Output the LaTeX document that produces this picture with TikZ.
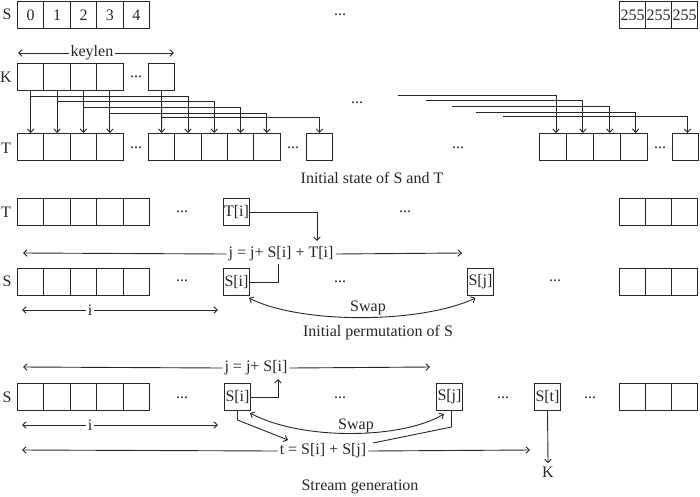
\documentclass[tikz,border=0pt]{standalone}
\usepackage{fontspec}
\setmainfont{Liberation Serif}
\usetikzlibrary{arrows.meta,calc}
\begin{document}
\begin{tikzpicture}[x=1pt,y=-1pt,
  every node/.style={font=\fontsize{16}{19}\selectfont, text=black!85},
  cell/.style={draw=black!85, line width=1pt, minimum width=26.4pt, minimum height=27pt, inner sep=0pt, anchor=north west},
  lbl/.style={inner sep=0pt},
  dots/.style={inner sep=0pt},
  conn/.style={draw=black!85, line width=0.9pt, -{Straight Barb[length=3.5pt,width=6.5pt]}},
  biconn/.style={draw=black!85, line width=0.9pt, {Straight Barb[length=3.5pt,width=6.5pt]}-{Straight Barb[length=3.5pt,width=6.5pt]}},
  plain/.style={draw=black!85, line width=0.9pt},
  gap/.style={fill=white, inner sep=1.5pt}
]
\useasboundingbox (0,0) rectangle (700,496);
% ---------- top S row
\node[lbl] (Slab0) at (7,14) {S};
\foreach \i in {0,...,4} \node[cell] (S0\i) at ({17+26.4*\i},1) {\i};
\node[dots] (d0) at (340,15) {...};
\foreach \i in {0,1,2} \node[cell, minimum width=26pt] (S0r\i) at ({619+26*\i},1) {255};
% keylen
\coordinate (kl) at (18,53); \coordinate (kr) at (174,53);
\draw[biconn] (kl) -- (kr) node[pos=0.474, gap] {keylen};
% K row
\node[lbl] (Klab0) at (6,77) {K};
\foreach \i in {0,...,3} \node[cell] (K\i) at ({17+26.4*\i},63) {};
\node[dots] (dk) at (136,77) {...};
\node[cell, minimum width=26pt] (K4) at (148,63) {};
\node[dots] (dk2) at (357,103) {...};
% T row
\node[lbl] (Tlab0) at (6,148) {T};
\foreach \i in {0,...,3} \node[cell] (T\i) at ({17+26.4*\i},133) {};
\node[dots] (dt1) at (136,148) {...};
\foreach \i in {0,...,4} \node[cell, minimum width=26.3pt] (U\i) at ({148+26.3*\i},133) {};
\node[dots] (dt2) at (293,148) {...};
\node[cell, minimum width=26pt] (U5) at (306,133) {};
\node[dots] (dt3) at (458,148) {...};
\foreach \i in {0,...,3} \node[cell, minimum width=26.9pt] (V\i) at ({539+26.9*\i},133) {};
\node[dots] (dt4) at (660,148) {...};
\node[cell, minimum width=26pt] (V4) at (672,133) {};
% K -> T connectors
\foreach \i in {0,...,3} \draw[conn] (K\i.south) -- (T\i.north);
\draw[conn] (K4.south) -- (U0.north);
\draw[conn] ($(K0.south)+(0,5)$) -| (U1.north);
\draw[conn] ($(K1.south)+(0,10)$) -| (U2.north);
\draw[conn] ($(K2.south)+(0,16)$) -| (U3.north);
\draw[conn] ($(K3.south)+(0,22)$) -| (U4.north);
\draw[conn] ($(K4.south)+(0,26)$) -| (U5.north);
\coordinate (r1) at (398,95);
\coordinate (r2) at (426,100);
\coordinate (r3) at (452,106);
\coordinate (r4) at (476,112);
\coordinate (r5) at (503,116);
\draw[conn] (r1) -| ($(V0.north)+(3,0)$);
\draw[conn] (r2) -| ($(V1.north)+(3,0)$);
\draw[conn] (r3) -| ($(V2.north)+(3,0)$);
\draw[conn] (r4) -| ($(V3.north)+(2,0)$);
\draw[conn] (r5) -| ($(V4.north)+(2,0)$);
\node (cap1) at (372,178) {Initial state of S and T};
% ---------- middle section
\node[lbl] (Tlab1) at (6,212) {T};
\foreach \i in {0,...,4} \node[cell] (MT\i) at ({17+26.4*\i},198) {};
\node[dots] (dm1) at (182,212) {...};
\node[cell, minimum width=26pt] (Ti) at (223,198) {T[i]};
\node[dots] (dm2) at (405,212) {...};
\foreach \i in {0,1,2} \node[cell, minimum width=26pt] (MTr\i) at ({619+26*\i},198) {};
\node[inner sep=2pt] (jeq) at (281,254) {j = j+ S[i] + T[i]};
\coordinate (jl) at (23,253); \coordinate (jr) at (462,253);
\draw[conn] (jeq.west) -- (jl);
\draw[conn] (jeq.east) -- (jr);
\coordinate (jtop) at (317,241);
\draw[conn] (Ti.east) -| (jtop);
\coordinate (jbot) at (278,264);
\node[lbl] (Slab1) at (7,281) {S};
\foreach \i in {0,...,4} \node[cell] (MS\i) at ({17+26.4*\i},268) {};
\node[dots] (dm3) at (182,281) {...};
\node[cell, minimum width=26pt] (Si) at (223,268) {S[i]};
\draw[plain] (Si.east) -| (jbot);
\node[dots] (dm4) at (340,282) {...};
\node[cell, minimum width=26pt] (Sj) at (467,268) {S[j]};
\node[dots] (dm5) at (555,281) {...};
\foreach \i in {0,1,2} \node[cell, minimum width=26pt] (MSr\i) at ({619+26*\i},268) {};
\coordinate (il) at (22,310); \coordinate (ir) at (218,310);
\draw[biconn] (il) -- (ir) node[pos=0.347, gap] {i};
\draw[biconn] ($(Si.south east)+(-1,2)$) .. controls (300,324) and (420,324) .. ($(Sj.south)+(-5,2)$);
\node (swap1) at (368,308) {Swap};
\node (cap2) at (378,333) {Initial permutation of S};
% ---------- bottom section
\node[inner sep=2pt] (jeq2) at (256,368) {j = j+ S[i]};
\coordinate (j2l) at (23,367); \coordinate (j2r) at (430,367);
\draw[conn] (jeq2.west) -- (j2l);
\draw[conn] (jeq2.east) -- (j2r);
\node[lbl] (Slab2) at (7,397) {S};
\foreach \i in {0,...,4} \node[cell] (BS\i) at ({17+26.4*\i},383) {};
\node[dots] (db1) at (182,398) {...};
\node[cell, minimum width=26pt] (Si2) at (224,383) {S[i]};
\node[dots] (db2) at (340,398) {...};
\node[cell, minimum width=26pt] (Sj2) at (436,383) {S[j]};
\node[dots] (db3) at (503,398) {...};
\node[cell, minimum width=26pt] (St) at (534,383) {S[t]};
\node[dots] (db4) at (590,398) {...};
\foreach \i in {0,1,2} \node[cell, minimum width=26pt] (BSr\i) at ({619+26*\i},383) {};
\coordinate (j2bot) at (278,379);
\draw[conn] (Si2.east) -| (j2bot);
\coordinate (i2l) at (22,425); \coordinate (i2r) at (218,425);
\draw[biconn] (i2l) -- (i2r) node[pos=0.347, gap] {i};
\draw[biconn] ($(Si2.south east)+(-1,2)$) .. controls (300,440) and (400,440) .. ($(Sj2.south west)+(8,3)$);
\node (swap2) at (356,426) {Swap};
\node[inner sep=2pt] (teq) at (323,451) {t = S[i] + S[j]};
\coordinate (tl) at (22,450); \coordinate (tr) at (530,450);
\draw[conn] (teq.west) -- (tl);
\draw[conn] (teq.east) -- (tr);
\coordinate (tin) at (288,440);
\draw[conn] (Si2.south) -- ++(0,9) -- (tin);
\coordinate (tne) at (373,443);
\draw[plain] ($(Sj2.south)+(2,0)$) -- ++(0,16) -- (tne);
\node (Kout) at (548,472) {K};
\draw[conn] (St.south) -- (Kout.north);
\node (cap3) at (360,487) {Stream generation};
\end{tikzpicture}
\end{document}
